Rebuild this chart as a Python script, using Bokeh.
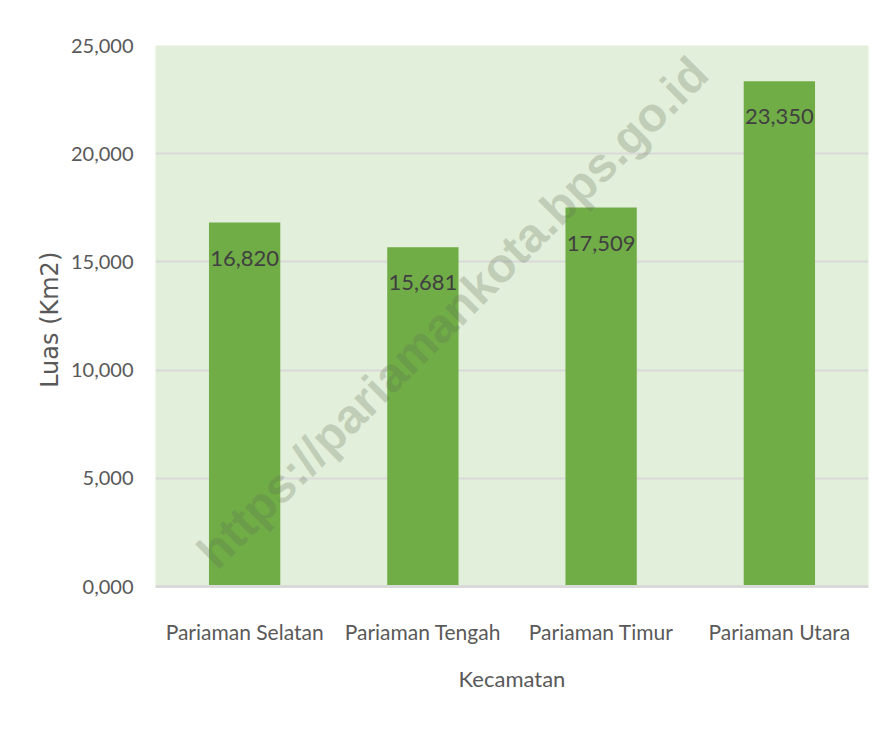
from bokeh.plotting import figure
from bokeh.models import ColumnDataSource, LabelSet, Label, FixedTicker, Range1d
from bokeh.core.properties import value
from bokeh.embed import file_html
from bokeh.resources import INLINE

# ---- data ----
categories = ["Pariaman Selatan", "Pariaman Tengah", "Pariaman Timur", "Pariaman Utara"]
values = [16.820, 15.681, 17.509, 23.350]
value_labels = ["16,820", "15,681", "17,509", "23,350"]
y_ticks = [0, 5, 10, 15, 20, 25]
y_tick_labels = ["0,000", "5,000", "10,000", "15,000", "20,000", "25,000"]
watermark = "https://pariamankota.bps.go.id"

FONT = "Lato"
TXT = "#595959"

src = ColumnDataSource(dict(cat=categories, val=values, lab=value_labels))

p = figure(x_range=categories, y_range=Range1d(0, 25), width=880, height=730,
           output_backend="svg", toolbar_location=None,
           min_border_left=155, min_border_right=12, min_border_top=45, min_border_bottom=144)

p.background_fill_color = "#e2efda"
p.border_fill_color = "white"
p.outline_line_color = None

p.vbar(x="cat", top="val", width=0.4, source=src, fill_color="#70ad47", line_color=None)

# grid
p.xgrid.grid_line_color = None
p.ygrid.grid_line_color = "#d9d9d9"
p.ygrid.grid_line_width = 2

# y axis
p.yaxis.ticker = FixedTicker(ticks=y_ticks)
p.yaxis.major_label_overrides = {t: l for t, l in zip(y_ticks, y_tick_labels)}
p.yaxis.axis_line_color = None
p.yaxis.major_tick_line_color = None
p.yaxis.minor_tick_line_color = None
p.yaxis.major_label_text_font = FONT
p.yaxis.major_label_text_font_size = "20px"
p.yaxis.major_label_text_color = TXT
p.yaxis.major_label_standoff = 16
p.yaxis.axis_label = "Luas  (Km2)"
p.yaxis.axis_label_text_font = "DejaVu Sans"
p.yaxis.axis_label_text_font_style = "normal"
p.yaxis.axis_label_text_font_size = "24px"
p.yaxis.axis_label_text_color = TXT
p.yaxis.axis_label_standoff = 4

# x axis
p.xaxis.axis_line_color = "#d9d9d9"
p.xaxis.axis_line_width = 3
p.xaxis.major_tick_line_color = None
p.xaxis.minor_tick_line_color = None
p.xaxis.major_label_text_font = FONT
p.xaxis.major_label_text_font_size = "21px"
p.xaxis.major_label_text_color = TXT
p.xaxis.major_label_standoff = 26
p.xaxis.axis_label = "Kecamatan"
p.xaxis.axis_label_text_font = FONT
p.xaxis.axis_label_text_font_style = "normal"
p.xaxis.axis_label_text_font_size = "22px"
p.xaxis.axis_label_text_color = TXT
p.xaxis.axis_label_standoff = 18

# data labels
labels = LabelSet(x="cat", y="val", text="lab", source=src, text_align="center",
                  text_baseline="top", y_offset=-28, text_font=value(FONT),
                  text_font_size=value("22px"), text_color="#404040")
p.add_layout(labels)

# watermark
wm = Label(x=297, y=274, x_units="screen", y_units="screen", text=watermark,
           angle=0.785398, text_align="center", text_baseline="middle",
           text_font="Liberation Sans", text_font_style="bold", text_font_size="48px",
           text_color="#5a6a50", text_alpha=0.25)
p.add_layout(wm)

open("out.html", "w").write(file_html(p, INLINE))
